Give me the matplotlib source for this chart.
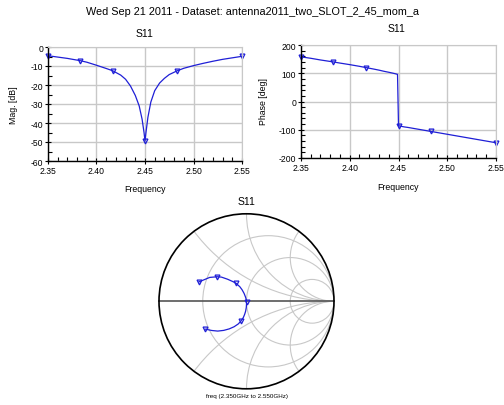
import numpy as np
import matplotlib
matplotlib.use("Agg")
import matplotlib.pyplot as plt
from matplotlib.patches import Circle

plt.rcParams['font.family'] = ['Liberation Sans', 'DejaVu Sans']
plt.rcParams['axes.unicode_minus'] = False

# SECTION data

freq = [2.350, 2.360, 2.370, 2.3833, 2.390, 2.400, 2.410, 2.4167, 2.425, 2.430,
        2.435, 2.440, 2.444, 2.447, 2.449, 2.450, 2.451, 2.453, 2.456, 2.460,
        2.465, 2.470, 2.475, 2.4833, 2.490, 2.500, 2.510, 2.520, 2.530, 2.540, 2.550]

mag_db = [-4.6, -5.3, -6.0, -7.2, -8.0, -9.6, -11.3, -12.5, -14.8, -17.0,
          -20.5, -25.5, -31.0, -38.0, -45.0, -49.5, -45.0, -37.0, -29.0, -23.0,
          -19.0, -16.5, -14.5, -12.5, -11.2, -9.8, -8.6, -7.5, -6.5, -5.7, -4.9]

phase_deg = [158, 153, 147, 140, 136, 130.5, 124.5, 120, 114.5, 111,
             107, 103.5, 100.5, 98, 96, -86, -86.5, -88, -90, -92,
             -95, -98, -101, -106, -110, -116, -122, -128, -134, -140, -146]

marker_freqs = [2.350, 2.3833, 2.4167, 2.450, 2.4833, 2.550]

title = "Wed Sep 21 2011 - Dataset: antenna2011_two_SLOT_2_45_mom_a"
freq_ticks = [2.35, 2.40, 2.45, 2.50, 2.55]
mag_ticks = [0, -10, -20, -30, -40, -50, -60]
phase_ticks = [200, 100, 0, -100, -200]

r_circles = [1 / 3, 1, 3]
x_arcs = [0.5, 1, 2, -0.5, -1, -2]

# SECTION helpers

W, H = 504, 406
LINE = '#1f1fd6'
GRID = '#c8c8c8'


def px_rect(x0, y0, x1, y1):
    return [x0 / W, 1 - y1 / H, (x1 - x0) / W, (y1 - y0) / H]


def style_rect(ax, yticks, yminor):
    ax.set_xlim(2.35, 2.55)
    ax.set_xticks(freq_ticks)
    ax.set_xticklabels(["%.2f" % f for f in freq_ticks])
    ax.set_xticks(np.arange(2.35, 2.5501, 0.01), minor=True)
    ax.set_yticks(yticks)
    ax.set_yticks(yminor, minor=True)
    ax.grid(True, which='major', color=GRID, lw=1.0)
    ax.set_axisbelow(True)
    for s in ['top', 'right']:
        ax.spines[s].set_color(GRID)
    for s in ['left', 'bottom']:
        ax.spines[s].set_linewidth(1.0)
    ax.tick_params(which='major', direction='inout', length=5, width=0.8,
                   labelsize=6.2, pad=1, top=False, right=False)
    ax.tick_params(which='minor', direction='in', length=3, width=0.8,
                   top=False, right=False)


marks = [freq.index(f) for f in marker_freqs]

fig = plt.figure(figsize=(W / 100, H / 100), dpi=100)
fig.text(252 / W, 1 - 12 / H, title, ha='center', va='center', fontsize=7.8)

# SECTION magnitude

ax1 = fig.add_axes(px_rect(48, 48, 242, 162))
ax1.plot(freq, mag_db, color=LINE, lw=0.9, marker='v', ms=3.5, mfc='none',
         mew=0.9, markevery=marks, clip_on=False)
ax1.set_ylim(-60, 0)
style_rect(ax1, mag_ticks, np.arange(-60, 1, 5))
fig.text(145 / W, 1 - 34 / H, "S11", ha='center', va='center', fontsize=7.5)
fig.text(145 / W, 1 - 190 / H, "Frequency", ha='center', va='center', fontsize=6.3)
fig.text(14 / W, 1 - 105 / H, "Mag. [dB]", ha='center', va='center',
         fontsize=6.3, rotation=90)

# SECTION phase

ax2 = fig.add_axes(px_rect(301, 46, 496, 159))
ax2.plot(freq, phase_deg, color=LINE, lw=0.9, marker='v', ms=3.5, mfc='none',
         mew=0.9, markevery=marks, clip_on=False)
ax2.set_ylim(-200, 200)
style_rect(ax2, phase_ticks, np.arange(-200, 201, 20))
fig.text(397 / W, 1 - 29 / H, "S11", ha='center', va='center', fontsize=7.5)
fig.text(398 / W, 1 - 188 / H, "Frequency", ha='center', va='center', fontsize=6.3)
fig.text(264 / W, 1 - 102 / H, "Phase [deg]", ha='center', va='center',
         fontsize=6.3, rotation=90)

# SECTION smith chart

cx, cy, rad = 246.5, 302.3, 87.5
ax3 = fig.add_axes(px_rect(cx - rad, cy - rad, cx + rad, cy + rad))
ax3.set_xlim(-1, 1)
ax3.set_ylim(-1, 1)
ax3.axis('off')

unit = Circle((0, 0), 1, fill=False, ec='black', lw=1.2, clip_on=False, zorder=4)
ax3.add_patch(unit)
for r in r_circles:
    ax3.add_patch(Circle((r / (1 + r), 0), 1 / (1 + r), fill=False, ec=GRID,
                         lw=0.8, zorder=1))
for x in x_arcs:
    arc = Circle((1, 1 / x), 1 / abs(x), fill=False, ec=GRID, lw=0.8, zorder=1)
    ax3.add_patch(arc)
    arc.set_clip_path(unit)
ax3.plot([-1, 1], [0, 0], color='#555555', lw=1.2, zorder=2, clip_on=False)

gamma = 10 ** (np.array(mag_db) / 20) * np.exp(1j * np.radians(phase_deg))
ax3.plot(gamma.real, gamma.imag, color=LINE, lw=0.9, marker='v', ms=3.5,
         mfc='none', mew=0.9, markevery=marks, zorder=3)

fig.text(cx / W, 1 - 202 / H, "S11", ha='center', va='center', fontsize=7.5)
fig.text(cx / W, 1 - 397 / H, "freq (2.350GHz to 2.550GHz)", ha='center',
         va='center', fontsize=4.5)

fig.savefig("out.png", dpi=100)
